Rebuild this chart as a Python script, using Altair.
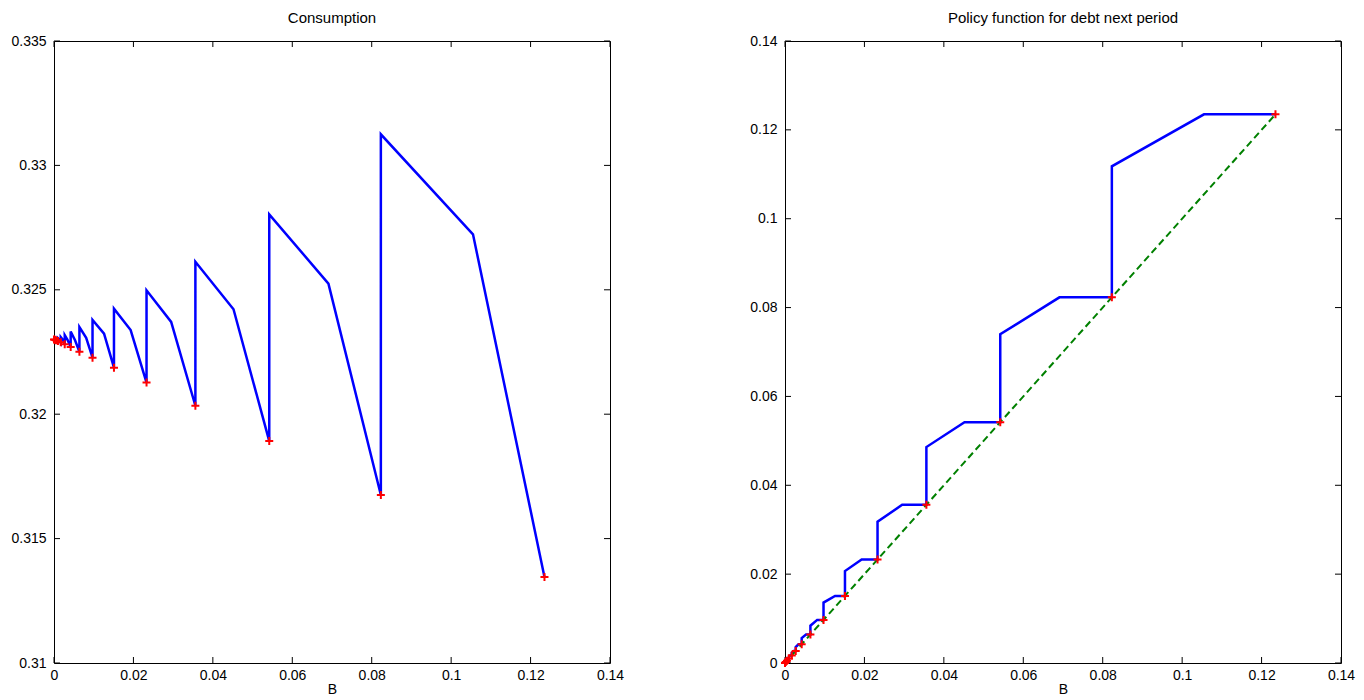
import altair as alt
import pandas as pd

# ---- data ----
grid_B = [0.0, 0.0002, 0.0005, 0.0010, 0.0017, 0.0027, 0.0042, 0.0064,
          0.0097, 0.0151, 0.0233, 0.0356, 0.0542, 0.0823, 0.1235]
cons_low = [0.32300, 0.32299, 0.32297, 0.32294, 0.32289, 0.32281, 0.32270, 0.32251,
            0.32227, 0.32187, 0.32127, 0.32034, 0.31892, 0.31675, 0.31346]
cons_top = [0.32300, 0.32301, 0.32302, 0.32305, 0.32310, 0.32318, 0.32332, 0.32350,
            0.32379, 0.32424, 0.32498, 0.32613, 0.32803, 0.33125]
kink_B = [0.0001, 0.0003, 0.0007, 0.0013, 0.0022, 0.0034, 0.0053, 0.0081,
          0.0126, 0.0193, 0.0295, 0.0452, 0.0691, 0.1055]
cons_kink = [0.32300, 0.32300, 0.32300, 0.32300, 0.32300, 0.32299, 0.32297, 0.32307,
             0.32324, 0.32338, 0.32371, 0.32422, 0.32525, 0.32723]
policy_top = [0.0001, 0.0003, 0.0007, 0.0014, 0.0023, 0.0036, 0.0056, 0.0084,
              0.0136, 0.0207, 0.0318, 0.0486, 0.0740, 0.1118]

x_ticks = [0, 0.02, 0.04, 0.06, 0.08, 0.1, 0.12, 0.14]
cons_ticks = [0.31, 0.315, 0.32, 0.325, 0.33, 0.335]
policy_ticks = [0, 0.02, 0.04, 0.06, 0.08, 0.1, 0.12, 0.14]

# ---- build tables ----
cons_rows, pol_rows = [], []
k = 0
for i in range(len(grid_B)):
    cons_rows.append({"B": grid_B[i], "V": cons_low[i], "o": k})
    pol_rows.append({"B": grid_B[i], "V": grid_B[i], "o": k}); k += 1
    if i < len(kink_B):
        cons_rows.append({"B": grid_B[i], "V": cons_top[i], "o": k})
        pol_rows.append({"B": grid_B[i], "V": policy_top[i], "o": k}); k += 1
        cons_rows.append({"B": kink_B[i], "V": cons_kink[i], "o": k})
        pol_rows.append({"B": kink_B[i], "V": grid_B[i + 1], "o": k}); k += 1
cons_df = pd.DataFrame(cons_rows)
pol_df = pd.DataFrame(pol_rows)
cons_pts = pd.DataFrame({"B": grid_B, "V": cons_low})
pol_pts = pd.DataFrame({"B": grid_B, "V": grid_B})
diag_df = pd.DataFrame({"B": [grid_B[0], grid_B[-1]], "V": [grid_B[0], grid_B[-1]]})

W, H = 556, 622
TL = 6
PLUS = "M-1,0L1,0M0,-1L0,1"
FONT = "Liberation Sans"


def panel(title, line_df, pts_df, y_dom, y_ticks, y_ext, extra=None):
    xs = alt.Scale(domain=[0, 0.14], nice=False, zero=False)
    ys = alt.Scale(domain=y_dom, nice=False, zero=False)
    xax = alt.Axis(values=x_ticks, format="~g", title="B", labelFlush=False,
                   labelOverlap=False, labelPadding=5, titlePadding=0, grid=False,
                   ticks=False, domain=False, labelFont=FONT, labelFontSize=14,
                   labelColor="black", titleFont=FONT, titleFontSize=14,
                   titleFontWeight="normal", titleColor="black")
    yax = alt.Axis(values=y_ticks, format="~g", title=None, labelOverlap=False,
                   labelPadding=8, minExtent=y_ext, maxExtent=y_ext, grid=False,
                   ticks=False, domain=False, labelFont=FONT, labelFontSize=14,
                   labelColor="black")
    X = lambda: alt.X("B:Q", scale=xs, axis=xax)
    Y = lambda: alt.Y("V:Q", scale=ys, axis=yax)

    line = alt.Chart(line_df).mark_line(color="#0000ff", strokeWidth=2.5).encode(
        x=X(), y=Y(), order="o:Q")
    pts = alt.Chart(pts_df).mark_point(shape=PLUS, filled=False, color="#ff0000",
                                       strokeWidth=2, size=64, opacity=1).encode(x=X(), y=Y())
    xt = pd.DataFrame({"B": x_ticks})
    yt = pd.DataFrame({"V": y_ticks})
    tb = alt.Chart(xt).mark_rule(color="black", strokeWidth=1).encode(
        x=X(), y=alt.value(H), y2=alt.value(H - TL))
    tt = alt.Chart(xt).mark_rule(color="black", strokeWidth=1).encode(
        x=X(), y=alt.value(0), y2=alt.value(TL))
    tl = alt.Chart(yt).mark_rule(color="black", strokeWidth=1).encode(
        y=Y(), x=alt.value(0), x2=alt.value(TL))
    tr = alt.Chart(yt).mark_rule(color="black", strokeWidth=1).encode(
        y=Y(), x=alt.value(W), x2=alt.value(W - TL))
    layers = [tb, tt, tl, tr, line]
    if extra is not None:
        layers.append(alt.Chart(extra).mark_line(color="#008000", strokeWidth=2,
                                                 strokeDash=[7, 4]).encode(x=X(), y=Y()))
    layers.append(pts)
    return alt.layer(*layers).properties(
        width=W, height=H,
        title=alt.TitleParams(title, font=FONT, fontSize=15, fontWeight="normal",
                              color="black", offset=8, anchor="middle", frame="group"))


left = panel("Consumption", cons_df, cons_pts, [0.31, 0.335], cons_ticks, 45)
right = panel("Policy function for debt next period", pol_df, pol_pts, [0, 0.14],
              policy_ticks, 40, extra=diag_df)

chart = alt.hconcat(left, right, spacing=175, bounds="flush").properties(
    padding={"left": 0, "top": 2, "right": 0, "bottom": 0},
    background="white"
).configure_view(stroke="black", strokeWidth=1)

chart.save("out.html", embed_options={"renderer": "svg", "actions": False})
